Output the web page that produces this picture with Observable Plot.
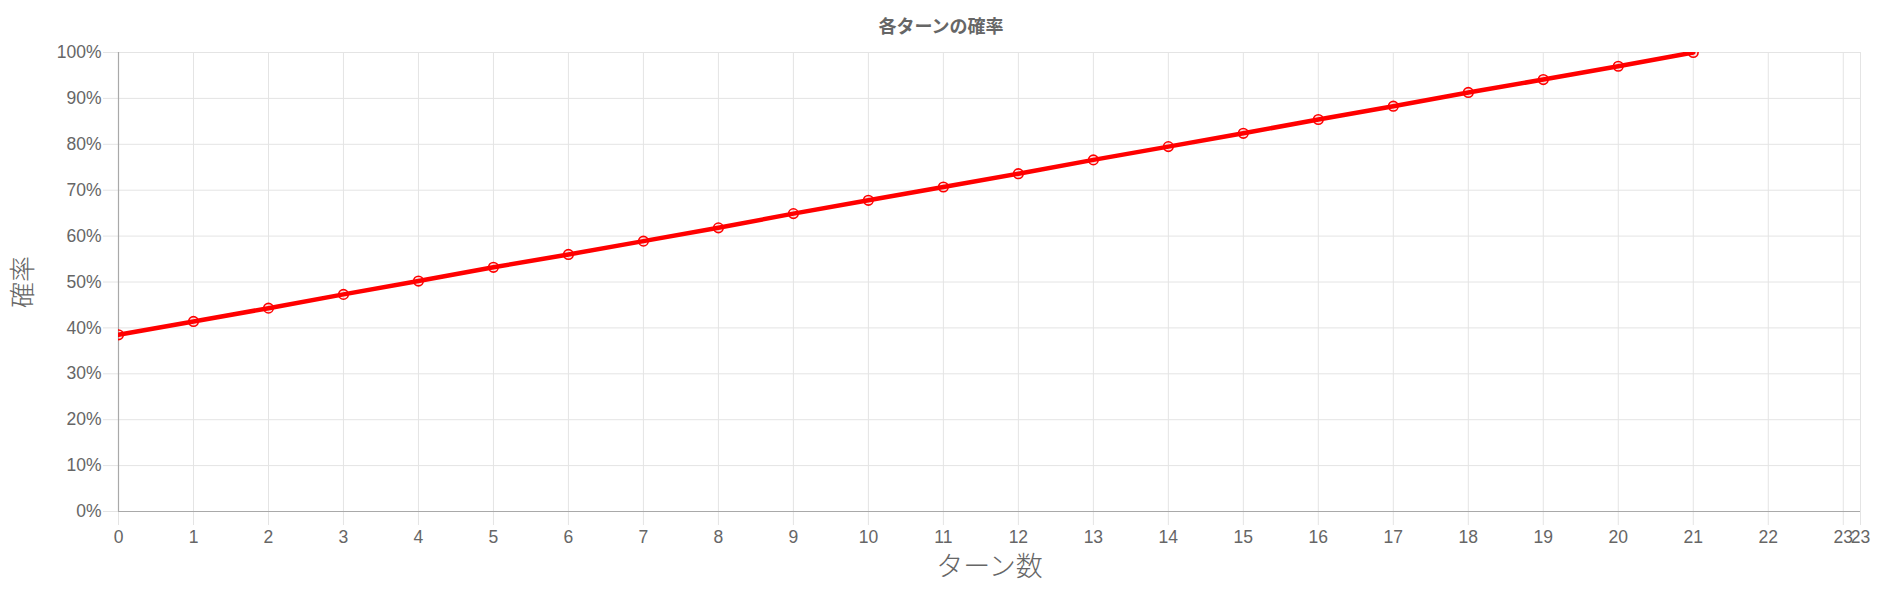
<!DOCTYPE html>
<html>
<head>
<meta charset="utf-8">
<script src="https://cdn.jsdelivr.net/npm/d3@7"></script>
<script src="https://cdn.jsdelivr.net/npm/@observablehq/plot@0.6"></script>
<style>
  html, body { margin: 0; padding: 0; background: #fff; }
  #wrap { position: relative; width: 1882px; height: 603px; }
  #title {
    position: absolute; left: 0; top: 14px; width: 1882px;
    text-align: center; font: bold 18px "Noto Sans CJK JP", "Liberation Sans", sans-serif;
    color: #666; line-height: 22px;
  }
  svg { display: block; }
</style>
</head>
<body>
<div id="wrap">
  <div id="title">各ターンの確率</div>
  <div id="chart"></div>
</div>
<script>
// Turn number and probability (%) of each turn
const turns = [0, 1, 2, 3, 4, 5, 6, 7, 8, 9, 10, 11, 12, 13, 14, 15, 16, 17, 18, 19, 20, 21];
const probability = [38.5, 41.4, 44.3, 47.3, 50.2, 53.2, 56.0, 58.9, 61.8, 64.9, 67.8, 70.7,
                     73.6, 76.6, 79.5, 82.4, 85.4, 88.3, 91.3, 94.1, 97.0, 100];
// Axis extent and ticks; the last x tick sits on the scale maximum
const xMax = 23.23;
const xTicks = [0, 1, 2, 3, 4, 5, 6, 7, 8, 9, 10, 11, 12, 13, 14, 15, 16, 17, 18, 19, 20, 21, 22, 23, xMax];
const yTicks = [0, 10, 20, 30, 40, 50, 60, 70, 80, 90, 100];
const xTitle = "ターン数";
const yTitle = "確率";

const data = turns.map((t, i) => ({turn: t, p: probability[i]}));

const gridColor = "#e4e4e4";
const axisColor = "#a9a9a9";
const textColor = "#666";

const chart = Plot.plot({
  width: 1882,
  height: 603,
  marginTop: 52,
  marginBottom: 92,
  marginLeft: 118,
  marginRight: 22,
  style: {fontFamily: "'Liberation Sans', Arial, sans-serif", fontSize: "17.5px", color: textColor, background: "#fff"},
  x: {domain: [0, xMax]},
  y: {domain: [0, 100]},
  marks: [
    Plot.gridX(xTicks, {stroke: gridColor, strokeOpacity: 1}),
    Plot.gridY(yTicks, {stroke: gridColor, strokeOpacity: 1}),
    Plot.axisX(xTicks, {
      tickSize: 14, tickPadding: 5, stroke: gridColor, strokeOpacity: 1,
      tickFormat: d => String(Math.floor(d)), fill: textColor, label: null
    }),
    Plot.axisY(yTicks, {
      tickSize: 15, tickPadding: 2, stroke: gridColor, strokeOpacity: 1,
      tickFormat: d => d + "%", fill: textColor, label: null
    }),
    Plot.ruleX([0], {stroke: axisColor, strokeWidth: 1.2}),
    Plot.ruleY([0], {stroke: axisColor, strokeWidth: 1.2}),
    Plot.line(data, {x: "turn", y: "p", stroke: "#ff0000", strokeWidth: 4.5, clip: true}),
    Plot.dot(data, {x: "turn", y: "p", r: 4.8, stroke: "#ff0000", strokeWidth: 1.6,
                    fill: "rgba(255,0,0,0.1)", clip: true}),
    Plot.text([xTitle], {frameAnchor: "bottom", dy: 64, fontSize: 27, fill: textColor,
                         fontFamily: "'Noto Sans CJK JP', sans-serif", fontWeight: 300}),
    Plot.text([yTitle], {frameAnchor: "left", dx: -95, rotate: -90, textAnchor: "middle",
                         fontSize: 26, fill: textColor,
                         fontFamily: "'Noto Sans CJK JP', sans-serif", fontWeight: 300})
  ]
});
document.getElementById("chart").appendChild(chart);
</script>
</body>
</html>
